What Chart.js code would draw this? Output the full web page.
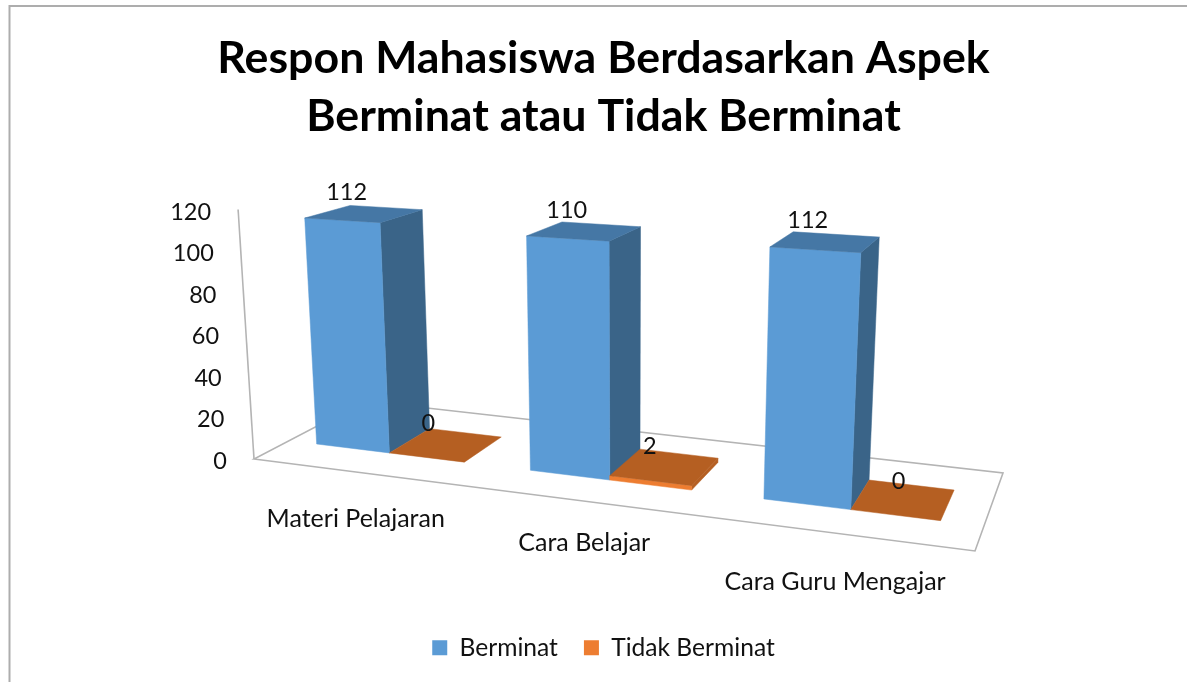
<!DOCTYPE html>
<html>
<head>
<meta charset="utf-8">
<script src="https://cdn.jsdelivr.net/npm/chart.js@4"></script>
<style>
  html, body { margin: 0; padding: 0; background: #fff; overflow: hidden; }
  canvas { display: block; }
</style>
</head>
<body>
<canvas id="respon" width="1187" height="682"></canvas>
<script>
const categories = ['Materi Pelajaran', 'Cara Belajar', 'Cara Guru Mengajar'];
const berminat = [112, 110, 112];
const tidakBerminat = [0, 2, 0];
const titleLines = ['Respon Mahasiswa Berdasarkan Aspek', 'Berminat atau Tidak Berminat'];
const yMax = 120;
const yStep = 20;

// the 3d look: corners of the floor on screen, depth range of the bars
const floorFL = [254, 459], floorFR = [975, 551], floorBR = [1003, 473], floorBL = [365, 401];
const barDepth = [0.29, 0.69];
const barShift = -0.005;
const vanish = [626, 6300];
const categoryDrop = [46, 41, 48];
const lowLabelNudge = [[0, 0], [3, 1], [13, 3]];
const textFont = 'Lato, "Open Sans", sans-serif';
const textColor = '#111';

function makeFloor() {
    const dx1 = floorFR[0] - floorBR[0], dy1 = floorFR[1] - floorBR[1];
    const dx2 = floorBL[0] - floorBR[0], dy2 = floorBL[1] - floorBR[1];
    const sx = floorFL[0] - floorFR[0] + floorBR[0] - floorBL[0];
    const sy = floorFL[1] - floorFR[1] + floorBR[1] - floorBL[1];
    const den = dx1 * dy2 - dy1 * dx2;
    const g = (sx * dy2 - sy * dx2) / den;
    const h = (dx1 * sy - dy1 * sx) / den;
    const a = floorFR[0] - floorFL[0] + g * floorFR[0];
    const b = floorBL[0] - floorFL[0] + h * floorBL[0];
    const d = floorFR[1] - floorFL[1] + g * floorFR[1];
    const e = floorBL[1] - floorFL[1] + h * floorBL[1];
    return (u, v) => {
        const w = g * u + h * v + 1;
        return [(a * u + b * v + floorFL[0]) / w, (d * u + e * v + floorFL[1]) / w];
    };
}
const onFloor = makeFloor();

// u = across the x scale, v = depth, t = fraction of the y scale
function project(u, v, t) {
    const p = onFloor(u, v);
    const tall = 250 + 0.503 * (p[1] - floorFL[1]);
    const vx = p[0] - vanish[0], vy = p[1] - vanish[1];
    const len = Math.hypot(vx, vy);
    return [p[0] + t * tall * vx / len, p[1] + t * tall * vy / len];
}

function face(ctx, pts, color) {
    ctx.beginPath();
    pts.forEach((p, i) => i ? ctx.lineTo(p[0], p[1]) : ctx.moveTo(p[0], p[1]));
    ctx.closePath();
    ctx.fillStyle = color;
    ctx.strokeStyle = color;
    ctx.lineWidth = 0.5;
    ctx.fill();
    ctx.stroke();
}

function outline(ctx, pts, close) {
    ctx.beginPath();
    pts.forEach((p, i) => i ? ctx.lineTo(p[0], p[1]) : ctx.moveTo(p[0], p[1]));
    if (close) ctx.closePath();
    ctx.strokeStyle = '#b4b4b4';
    ctx.lineWidth = 1.6;
    ctx.stroke();
}

const shades = [
    { front: '#5B9BD5', top: '#4577A5', side: '#3A6488' },
    { front: '#ED7D31', top: '#B55F22', side: '#B55F22' },
];

const bars3d = {
    id: 'bars3d',
    beforeDraw(chart) {
        const ctx = chart.ctx;
        ctx.save();
        ctx.strokeStyle = '#adadad';
        ctx.lineWidth = 2;
        ctx.beginPath();
        ctx.moveTo(9.5, 682);
        ctx.lineTo(9.5, 6);
        ctx.lineTo(1187, 6);
        ctx.stroke();
        ctx.restore();
    },
    beforeDatasetsDraw(chart) {
        const ctx = chart.ctx;
        const xs = chart.scales.x, ys = chart.scales.y;
        ctx.save();

        // floor and wall edge
        outline(ctx, [floorFL, floorFR, floorBR, floorBL], true);
        outline(ctx, [project(0, 0, 0), project(0, 0, 1)], false);

        // y tick labels follow the sloping wall edge
        ctx.font = '23.5px ' + textFont;
        ctx.fillStyle = textColor;
        ctx.textAlign = 'right';
        ctx.textBaseline = 'middle';
        ys.ticks.forEach(tick => {
            const t = (ys.bottom - ys.getPixelForValue(tick.value)) / ys.height;
            const p = project(0, 0, t);
            ctx.fillText(tick.value, p[0] - 27, p[1] + 2.5);
        });

        // category labels under the front floor edge
        ctx.textAlign = 'center';
        ctx.font = '25px ' + textFont;
        categories.forEach((name, i) => {
            const u = (xs.getPixelForValue(i) - xs.left) / xs.width;
            const p = onFloor(u, 0);
            ctx.fillText(name, p[0] - 5, p[1] + categoryDrop[i]);
        });

        const labels = [];
        categories.forEach((name, i) => {
            chart.data.datasets.forEach((ds, k) => {
                const bar = chart.getDatasetMeta(k).data[i];
                const u0 = (bar.x - bar.width / 2 - xs.left) / xs.width + barShift;
                const u1 = (bar.x + bar.width / 2 - xs.left) / xs.width + barShift;
                const t = (ys.bottom - bar.y) / ys.height;
                const v0 = barDepth[0], v1 = barDepth[1];
                const c = shades[k];
                if (t > 0) {
                    face(ctx, [project(u1, v0, 0), project(u1, v1, 0), project(u1, v1, t), project(u1, v0, t)], c.side);
                    face(ctx, [project(u0, v0, 0), project(u1, v0, 0), project(u1, v0, t), project(u0, v0, t)], c.front);
                }
                face(ctx, [project(u0, v0, t), project(u1, v0, t), project(u1, v1, t), project(u0, v1, t)], c.top);
                const mid = project((u0 + u1) / 2, (v0 + v1) / 2, t);
                const nudge = k === 1 ? lowLabelNudge[i] : [0, 0];
                labels.push([ds.data[i], mid[0] - 18 + nudge[0], mid[1] - 21 + nudge[1]]);
            });
        });

        // value labels last so they sit over the bars
        ctx.font = '23.5px ' + textFont;
        ctx.fillStyle = textColor;
        labels.forEach(l => ctx.fillText(l[0], l[1], l[2]));
        ctx.restore();
        return false;
    },
};

new Chart(document.getElementById('respon'), {
    type: 'bar',
    data: {
        labels: categories,
        datasets: [
            { label: 'Berminat', data: berminat, backgroundColor: '#5B9BD5', categoryPercentage: 0.7, barPercentage: 1 },
            { label: 'Tidak Berminat', data: tidakBerminat, backgroundColor: '#ED7D31', categoryPercentage: 0.7, barPercentage: 1 },
        ],
    },
    options: {
        responsive: false,
        animation: false,
        layout: { padding: { left: 20, right: 0, top: 30, bottom: 12 } },
        scales: {
            x: { display: false },
            y: { display: false, min: 0, max: yMax, ticks: { stepSize: yStep } },
        },
        plugins: {
            title: {
                display: true,
                text: titleLines,
                color: '#000',
                font: { family: textFont, size: 44.7, weight: 'bold', lineHeight: 1.29 },
                padding: 0,
            },
            legend: {
                position: 'bottom',
                labels: {
                    color: textColor,
                    font: { family: textFont, size: 24.6 },
                    boxWidth: 15,
                    boxHeight: 15,
                    padding: 26,
                },
            },
            tooltip: { enabled: false },
        },
    },
    plugins: [bars3d],
});
</script>
</body>
</html>
